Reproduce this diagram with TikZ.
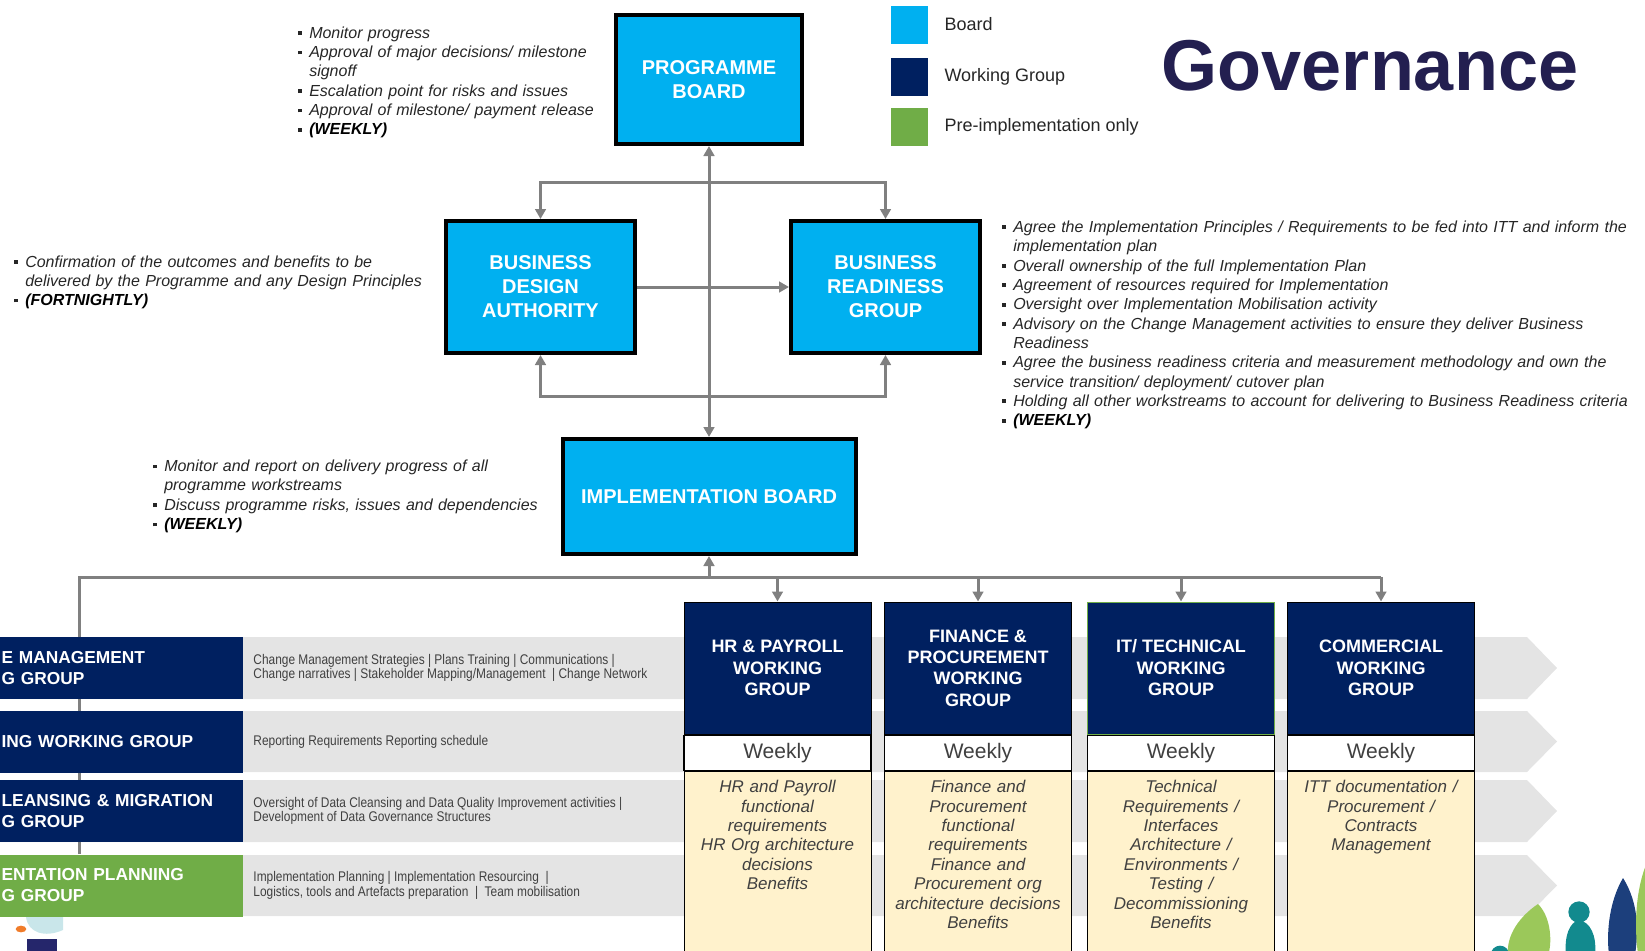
\documentclass[tikz,border=0pt]{standalone}
\usepackage{fontspec}
\setmainfont{Liberation Sans}
\newfontfamily\narrowfont[FakeStretch=0.85]{Liberation Sans}
\usetikzlibrary{positioning,arrows.meta,backgrounds}

\definecolor{boardblue}{HTML}{00B0F0}
\definecolor{wgnavy}{HTML}{002060}
\definecolor{pregreen}{HTML}{70AD47}
\definecolor{bandgray}{HTML}{E4E4E4}
\definecolor{remitcream}{HTML}{FFF2CC}
\definecolor{linkgray}{HTML}{808080}
\definecolor{notegray}{HTML}{262626}
\definecolor{txtgray}{HTML}{404040}
\definecolor{titlenavy}{HTML}{231F50}
\definecolor{leafgreen}{HTML}{9BC85A}
\definecolor{leafteal}{HTML}{128A8E}
\definecolor{leafnavy}{HTML}{1C3F7C}
\definecolor{figblue}{HTML}{C9E6EA}
\definecolor{figorange}{HTML}{F07C2A}
\definecolor{fignavy}{HTML}{25266B}

% bullet and hanging indent for the remit notes
\newcommand{\notebullet}{\makebox[8.25pt][l]{\rule[2.4pt]{2.8pt}{2.8pt}}}
\newcommand{\noteind}{\hspace*{8.25pt}}

\begin{document}
\begin{tikzpicture}[
        x=0.75pt, y=-0.75pt,
        >={Triangle[length=7.5pt,width=8pt]},
        board/.style={draw, line width=3pt, fill=boardblue, text=white, align=center, inner sep=0pt,
            font=\fontsize{15}{18}\selectfont\bfseries},
        wg/.style={draw, line width=0.75pt, fill=wgnavy, text=white, align=center, inner sep=0pt,
            minimum width=140.25pt, minimum height=99pt, font=\fontsize{13.5}{16.1}\selectfont\bfseries},
        freq/.style={draw, line width=1pt, fill=white, text=txtgray, inner sep=0pt,
            minimum width=140.25pt, minimum height=26.25pt, font=\fontsize{15.75}{18}\selectfont},
        remit/.style={draw, line width=0.75pt, fill=remitcream, inner sep=0pt,
            minimum width=140.25pt, minimum height=142pt},
        remittxt/.style={text=txtgray, align=center, text width=138pt, inner sep=0pt,
            font=\fontsize{12.75}{14.55}\selectfont\itshape},
        rowlbl/.style={fill=wgnavy, text=white, anchor=west, align=left, text width=180pt,
            minimum height=46.5pt, inner xsep=1pt, inner ysep=0pt, font=\fontsize{13}{15.75}\selectfont\bfseries},
        bandtxt/.style={text=txtgray, align=left, inner sep=0pt, font=\narrowfont\fontsize{10.5}{11}\selectfont},
        note/.style={text=notegray, anchor=base west, align=left, text width=480pt, inner sep=0pt,
            font=\fontsize{12}{14.5}\selectfont\itshape},
        key/.style={minimum width=27.75pt, minimum height=28.5pt, inner sep=0pt},
        keytxt/.style={text=notegray, inner sep=0pt, font=\fontsize{13.5}{16}\selectfont},
        link/.style={draw=linkgray, line width=2.25pt},
    ]
    \useasboundingbox (0,0) rectangle (1645,950);

    % boards
    \node[board, minimum width=139.5pt, minimum height=96.75pt] (pb) at (709,79.5) {PROGRAMME\\BOARD};
    \node[board, minimum width=141.75pt, minimum height=99pt] (bda) at (540.5,287) {BUSINESS\\DESIGN\\AUTHORITY};
    \node[board, minimum width=141.75pt, minimum height=99pt] (brg) at (885.5,287) {BUSINESS\\READINESS\\GROUP};
    \node[board, minimum width=219.75pt, minimum height=86.25pt] (ib) at (709,496.5) {IMPLEMENTATION BOARD};

    % working groups
    \node[wg] (hr) at (777.5,668) {HR \& PAYROLL\\WORKING\\GROUP};
    \node[freq, below=0pt of hr] (hrw) {Weekly};
    \node[remit, below=0pt of hrw] (hrr) {};
    \node[remittxt, below=7pt of hrr.north] {HR and Payroll\\functional\\requirements\\HR Org architecture\\decisions\\Benefits};

    \node[wg] (fin) at (978,668) {FINANCE \&\\PROCUREMENT\\WORKING\\GROUP};
    \node[freq, below=0pt of fin] (finw) {Weekly};
    \node[remit, below=0pt of finw] (finr) {};
    \node[remittxt, below=7pt of finr.north] {Finance and\\Procurement\\functional\\requirements\\Finance and\\Procurement org\\architecture decisions\\Benefits};

    \node[wg, draw=pregreen] (it) at (1181,668) {IT/ TECHNICAL\\WORKING\\GROUP};
    \node[freq, below=0pt of it] (itw) {Weekly};
    \node[remit, below=0pt of itw] (itr) {};
    \node[remittxt, below=7pt of itr.north] {Technical\\Requirements /\\Interfaces\\Architecture /\\Environments /\\Testing /\\Decommissioning\\Benefits};

    \node[wg] (com) at (1381,668) {COMMERCIAL\\WORKING\\GROUP};
    \node[freq, below=0pt of com] (comw) {Weekly};
    \node[remit, below=0pt of comw] (comr) {};
    \node[remittxt, below=7pt of comr.north] {ITT documentation /\\Procurement /\\Contracts\\Management};

    % workstream rows
    \node[rowlbl] (cm) at (0,668) {E MANAGEMENT\\G GROUP};
    \node[rowlbl] (rep) at (0,741.5) {ING WORKING GROUP};
    \node[rowlbl] (dc) at (0,811) {LEANSING \& MIGRATION\\G GROUP};
    \node[rowlbl, fill=pregreen] (ip) at (0,885.5) {ENTATION PLANNING\\G GROUP};

    \node[bandtxt, right=7.5pt of cm] {Change Management Strategies | Plans Training | Communications |\\Change narratives | Stakeholder Mapping/Management \ | Change Network};
    \node[bandtxt, right=7.5pt of rep] {Reporting Requirements Reporting schedule};
    \node[bandtxt, right=7.5pt of dc] {Oversight of Data Cleansing and Data Quality Improvement activities |\\Development of Data Governance Structures};
    \node[bandtxt, right=7.5pt of ip] {Implementation Planning | Implementation Resourcing \ |\\Logistics, tools and Artefacts preparation \ | \ Team mobilisation};

    % remits
    \node[note] (pbn) at (298,38.3) {\notebullet Monitor progress\\
        \notebullet Approval of major decisions/ milestone\\
        \noteind signoff\\
        \notebullet Escalation point for risks and issues\\
        \notebullet Approval of milestone/ payment release\\
        \notebullet \textbf{\color{black}(WEEKLY)}};
    \node[note] (bdan) at (14,267) {\notebullet Confirmation of the outcomes and benefits to be\\
        \noteind delivered by the Programme and any Design Principles\\
        \notebullet \textbf{\color{black}(FORTNIGHTLY)}};
    \node[note] (brgn) at (1002,232.4) {\notebullet Agree the Implementation Principles / Requirements to be fed into ITT and inform the\\
        \noteind implementation plan\\
        \notebullet Overall ownership of the full Implementation Plan\\
        \notebullet Agreement of resources required for Implementation\\
        \notebullet Oversight over Implementation Mobilisation activity\\
        \notebullet Advisory on the Change Management activities to ensure they deliver Business\\
        \noteind Readiness\\
        \notebullet Agree the business readiness criteria and measurement methodology and own the\\
        \noteind service transition/ deployment/ cutover plan\\
        \notebullet Holding all other workstreams to account for delivering to Business Readiness criteria\\
        \notebullet \textbf{\color{black}(WEEKLY)}};
    \node[note] (ibn) at (153,471.6) {\notebullet Monitor and report on delivery progress of all\\
        \noteind programme workstreams\\
        \notebullet Discuss programme risks, issues and dependencies\\
        \notebullet \textbf{\color{black}(WEEKLY)}};

    % legend and heading
    \node[key, fill=boardblue] (kb) at (909.5,24.5) {};
    \node[keytxt, right=12pt of kb] {Board};
    \node[key, fill=wgnavy] (kw) at (909.5,76.5) {};
    \node[keytxt, right=12pt of kw] {Working Group};
    \node[key, fill=pregreen] (kp) at (909.5,127) {};
    \node[keytxt, right=12pt of kp] {Pre-implementation only};
    \node[text=titlenavy, inner sep=0pt, font=\fontsize{54}{60}\selectfont\bfseries] (title) at (1370,66) {Governance};

    % corner artwork
    \fill[figblue] (26,917) .. controls (28,933) and (45,938) .. (63,930) -- (63,917) -- cycle;
    \fill[figorange] (21,929) ellipse[x radius=4pt, y radius=2.5pt];
    \fill[fignavy] (27,939) rectangle (57,955);
    \fill[leafteal] (1500,955) circle[radius=7pt];
    \fill[leafgreen] (1538,904) .. controls (1552,918) and (1552,945) .. (1548,955) -- (1508,955) .. controls (1506,935) and (1520,916) .. (1538,904);
    \fill[leafteal] (1579,912) circle[radius=8pt];
    \fill[leafteal] (1566,955) .. controls (1564,935) and (1570,922) .. (1579,920) .. controls (1590,922) and (1597,935) .. (1595,955) -- cycle;
    \fill[leafnavy] (1623,878) .. controls (1640,905) and (1638,935) .. (1635,955) -- (1609,955) .. controls (1606,930) and (1610,900) .. (1623,878);
    \fill[leafgreen] (1668,925) ellipse[x radius=24pt, y radius=62pt];

    \begin{pgfonlayer}{background}
        % grey workstream bands
        \fill[bandgray] (0,637) -- (1527,637) -- (1557,668) -- (1527,699) -- (0,699) -- cycle;
        \fill[bandgray] (0,711) -- (1527,711) -- (1557,741.5) -- (1527,772) -- (0,772) -- cycle;
        \fill[bandgray] (0,780) -- (1527,780) -- (1557,811) -- (1527,842) -- (0,842) -- cycle;
        \fill[bandgray] (0,855) -- (1527,855) -- (1557,885.5) -- (1527,916) -- (0,916) -- cycle;

        % reporting lines
        \coordinate (top) at (709,182);
        \coordinate (low) at (709,396);
        \coordinate (bus) at (709,577);
        \coordinate (busl) at (79,577);
        \draw[link, <->] (pb) -- (ib);
        \draw[link, <->] (bda.north) |- (top) -| (brg.north);
        \draw[link, <->] (bda.south) |- (low) -| (brg.south);
        \draw[link, ->] (bda) -- (brg);
        \draw[link, ->] (bus) -- (ib);
        \draw[link] (busl |- ip.north) -- (busl) -- (bus -| com.north);
        \draw[link, ->] (bus -| hr.north) -- (hr);
        \draw[link, ->] (bus -| fin.north) -- (fin);
        \draw[link, ->] (bus -| it.north) -- (it);
        \draw[link, ->] (bus -| com.north) -- (com);
    \end{pgfonlayer}
\end{tikzpicture}
\end{document}
